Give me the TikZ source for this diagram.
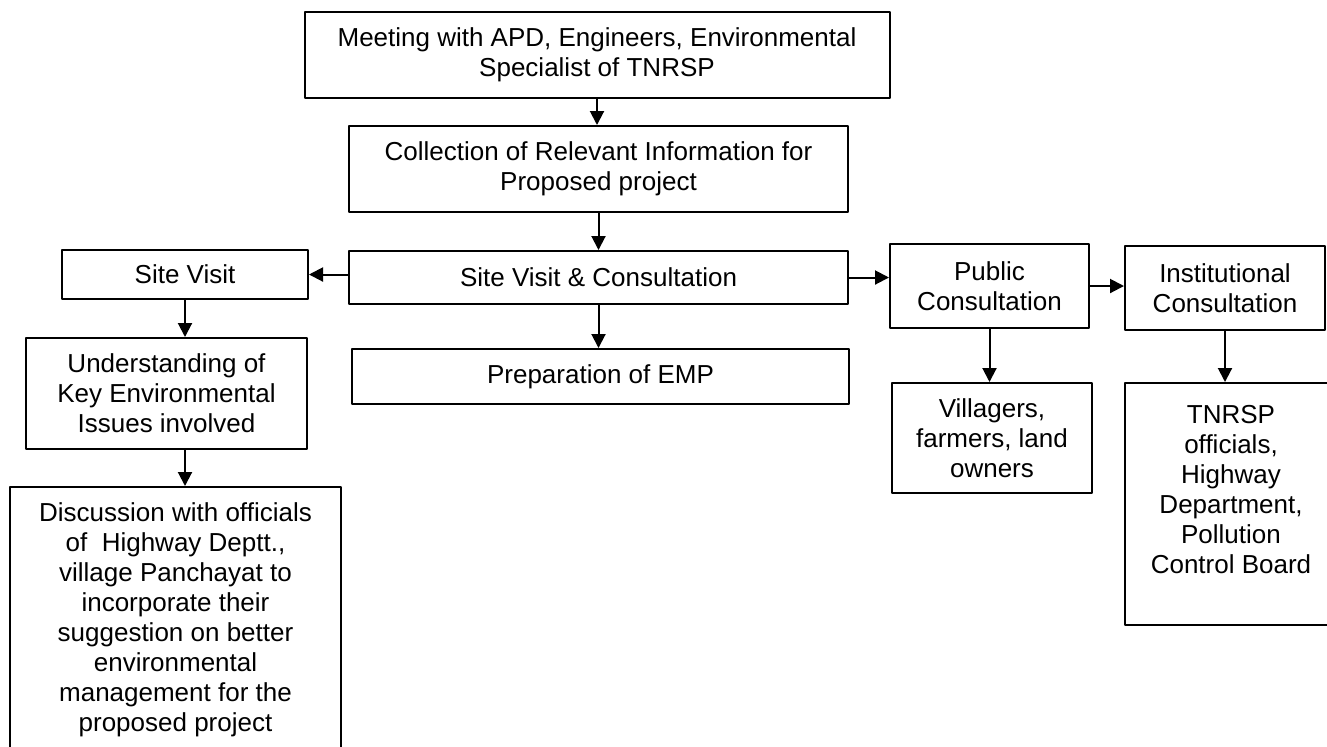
\documentclass[tikz,border=0pt]{standalone}
\usepackage{fontspec}
\setmainfont{Liberation Sans}
\usetikzlibrary{arrows.meta,positioning}

\begin{document}
\begin{tikzpicture}[x=0.5pt,y=-0.5pt,line join=bevel,
  box/.style={draw,line width=1pt,inner sep=0pt,align=center,
    font=\fontsize{13pt}{15pt}\selectfont},
  arr/.style={-{Triangle[length=7pt,width=7pt]},line width=1pt}]
  \useasboundingbox (0,0) rectangle (1327,746);
%%
  % Node: meet
  \node[box,minimum width=292.5pt,minimum height=43pt] (meet) at (597,55)
    {Meeting with APD, Engineers, Environmental\\Specialist of TNRSP};
  % Node: collect
  \node[box,minimum width=249.5pt,minimum height=43pt] (collect) at (598.5,169)
    {Collection of Relevant Information for\\Proposed project};
  % Node: sitecons
  \node[box,minimum width=249.5pt,minimum height=26.5pt] (sitecons) at (598.5,277.5)
    {Site Visit \& Consultation};
  % Node: emp
  \node[box,minimum width=248.5pt,minimum height=27.5pt] (emp) at (600.5,376.5)
    {Preparation of EMP};
  % Node: sitevisit
  \node[box,minimum width=123pt,minimum height=24.5pt] (sitevisit) at (185,274.5)
    {Site Visit};
  % Node: underst
  \node[box,minimum width=140.5pt,minimum height=55.5pt] (underst) at (166.5,393.5)
    {Understanding of\\Key Environmental\\Issues involved};
  % Node: discuss
  \node[box,minimum width=165.5pt,minimum height=132.5pt] (discuss) at (175.5,619.5)
    {Discussion with officials\\of\ \ Highway Deptt.,\\village Panchayat to\\incorporate their\\suggestion on better\\environmental\\management for the\\proposed project};
  % Node: public
  \node[box,minimum width=99.5pt,minimum height=42pt] (public) at (989.5,286)
    {Public\\Consultation};
  % Node: inst
  \node[box,minimum width=100pt,minimum height=42pt] (inst) at (1225,288)
    {Institutional\\Consultation};
  % Node: villagers
  \node[box,minimum width=100pt,minimum height=55pt] (villagers) at (992,438)
    {Villagers,\\farmers, land\\owners};
  % Node: tnrsp
  \node[box,minimum width=106pt,minimum height=121pt] (tnrsp) at (1231,504)
    {TNRSP\\officials,\\Highway\\Department,\\Pollution\\Control Board\\~};
%
  % Edge: meet -> collect
  \draw[arr] (meet.south) -- (meet.south |- collect.north);
  % Edge: collect -> sitecons
  \draw[arr] (collect.south) -- (sitecons.north);
  % Edge: sitecons -> emp
  \draw[arr] (sitecons.south) -- (sitecons.south |- emp.north);
  % Edge: sitecons -> sitevisit
  \draw[arr] (sitecons.west |- sitevisit.east) -- (sitevisit.east);
  % Edge: sitevisit -> underst
  \draw[arr] (sitevisit.south) -- (sitevisit.south |- underst.north);
  % Edge: underst -> discuss
  \draw[arr] (underst.south -| sitevisit.south) -- (discuss.north -| sitevisit.south);
  % Edge: sitecons -> public
  \draw[arr] (sitecons.east) -- (sitecons.east -| public.west);
  % Edge: public -> inst
  \draw[arr] (public.east) -- (public.east -| inst.west);
  % Edge: public -> villagers
  \draw[arr] (public.south) -- (public.south |- villagers.north);
  % Edge: inst -> tnrsp
  \draw[arr] (inst.south) -- (inst.south |- tnrsp.north);
%
\end{tikzpicture}
\end{document}
